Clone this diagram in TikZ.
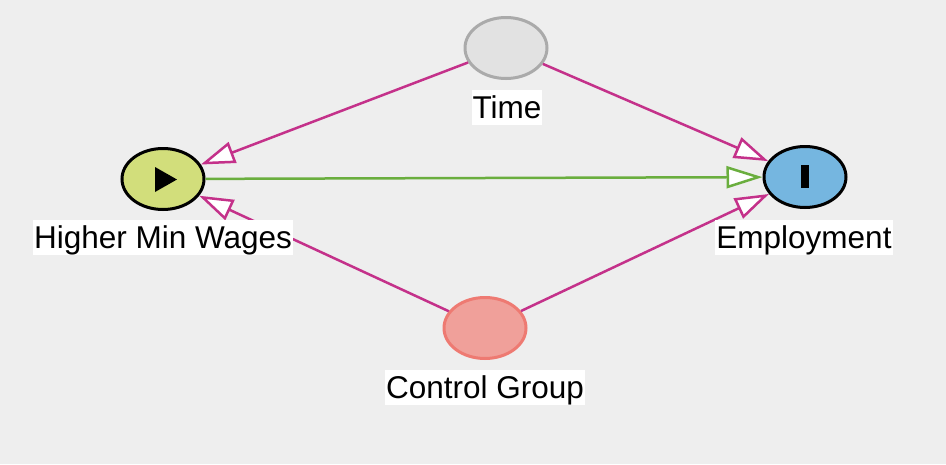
\documentclass[tikz,border=0pt]{standalone}
\usepackage{fontspec}
\setmainfont{Liberation Sans}
\usetikzlibrary{shapes.geometric,arrows.meta}
\definecolor{bg}{HTML}{EEEEEE}
\definecolor{edgemag}{HTML}{C4318A}
\definecolor{edgegreen}{HTML}{6AAE3E}
\definecolor{hmwfill}{HTML}{D2DE7B}
\definecolor{empfill}{HTML}{75B6E0}
\definecolor{timefill}{HTML}{E2E2E2}
\definecolor{timedraw}{HTML}{AAAAAA}
\definecolor{ctrlfill}{HTML}{F0A09A}
\definecolor{ctrldraw}{HTML}{EE7A72}
\tikzset{
  var/.style={ellipse, inner sep=0pt, minimum width=82pt, minimum height=61pt, line width=3pt},
  lbl/.style={fill=white, inner xsep=1pt, inner ysep=0pt, text height=28pt, text depth=7pt, anchor=base, font=\fontsize{31.5}{36}\selectfont},
  causal/.style={draw=edgemag, line width=2.5pt, -{Triangle[length=34pt, width=22pt, fill=white]}},
  effect/.style={draw=edgegreen, line width=2.5pt, -{Triangle[length=36pt, width=22pt, fill=white]}}
}
\begin{document}
\begin{tikzpicture}[x=1pt, y=-1pt]
\useasboundingbox (0,0) rectangle (946,464);
\fill[bg] (0,0) rectangle (946,464);
% nodes
\node[var, draw=black, fill=hmwfill] (hmw) at (163,179) {};
\node[var, draw=black, fill=empfill] (emp) at (805,177) {};
\node[var, draw=timedraw, fill=timefill] (time) at (506,48) {};
\node[var, draw=ctrldraw, fill=ctrlfill] (ctrl) at (485,328) {};
% icons
\fill[black] (155,167) -- (177,179.5) -- (155,192) -- cycle;
\fill[black] (800.5,165) rectangle (808.5,188);
% edges
\draw[causal] (time) -- (hmw);
\draw[causal] (time) -- (emp);
\draw[causal] (ctrl) -- (hmw);
\draw[causal] (ctrl) -- (emp);
\draw[effect] (hmw) -- (emp);
% labels
\node[lbl] (time-l) at (507,118) {Time};
\node[lbl] (hmw-l) at (163,248) {Higher Min Wages};
\node[lbl] (emp-l) at (804,248) {Employment};
\node[lbl] (ctrl-l) at (485,398) {Control Group};
\end{tikzpicture}
\end{document}
